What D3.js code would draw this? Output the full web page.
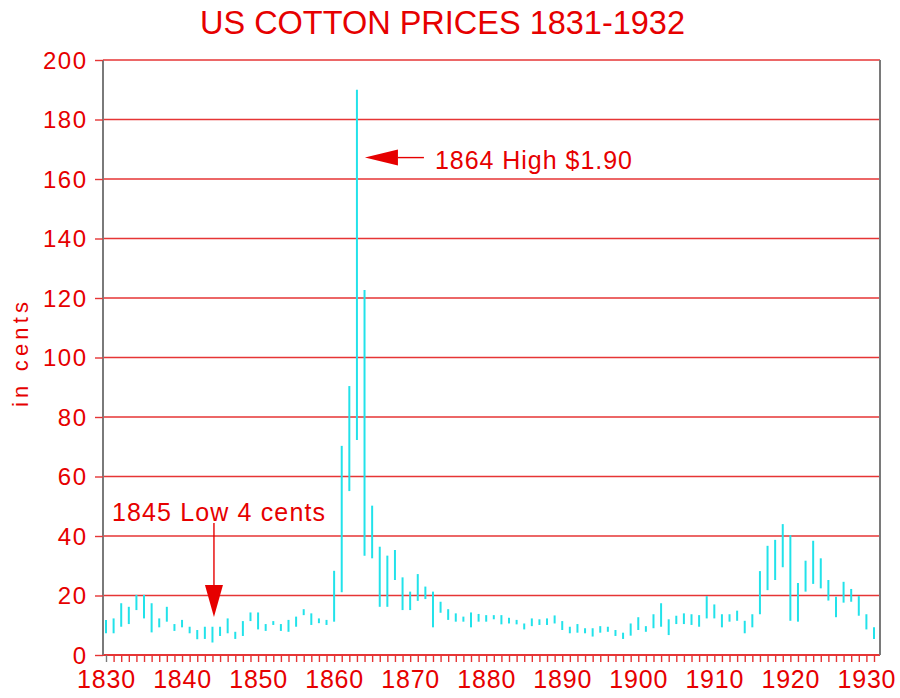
<!DOCTYPE html>
<html><head><meta charset="utf-8">
<script src="https://cdn.jsdelivr.net/npm/d3@7"></script>
<style>
html,body{margin:0;padding:0;background:#fff;}
svg{display:block;}
text{font-family:"Liberation Sans", Arial, sans-serif;}
</style></head><body>
<svg id="chart" width="900" height="698"></svg>
<script>
// ---------- data ----------
const years = d3.range(1831, 1933);
const lows = [
  7.3, 7.3, 9.5, 10.4, 15.1, 12.3, 7.6, 9.3, 11.2, 8.1,      // 1831-1840
  9.3, 7.3, 5.3, 5.4, 4.2, 6.4, 7.3, 5.4, 6.4, 11.4,         // 1841-1850
  8.6, 8.1, 10.1, 8.1, 7.8, 9.5, 13.4, 10.1, 10.7, 10.1,     // 1851-1860
  11.2, 21.1, 55.1, 72.3, 33.4, 32.5, 16.2, 16.2, 25.2, 15.1,// 1861-1870
  15.1, 18.2, 18.8, 9.3, 14.2, 11.8, 11.2, 11.2, 9.3, 11.2,  // 1871-1880
  11.2, 12.0, 10.3, 10.6, 10.3, 8.6, 9.7, 10.1, 10.1, 10.6,  // 1881-1890
  8.4, 7.3, 7.5, 7.3, 6.2, 7.5, 7.8, 6.4, 5.4, 6.5,          // 1891-1900
  8.4, 7.8, 9.0, 9.5, 6.7, 10.4, 10.4, 10.1, 9.5, 12.3,      // 1901-1910
  12.3, 9.3, 11.2, 11.5, 7.3, 9.3, 13.7, 21.8, 25.2, 29.5,   // 1911-1920
  11.5, 11.2, 21.3, 23.9, 22.4, 18.3, 12.7, 17.6, 17.9, 13.2,// 1921-1930
  8.6, 5.4                                                   // 1931-1932
];
const highs = [
  11.8, 12.3, 17.4, 16.2, 20.2, 20.2, 17.4, 12.3, 16.2, 10.4,
  11.8, 9.5, 8.4, 9.5, 9.5, 9.5, 12.3, 7.8, 11.4, 14.3,
  14.3, 10.4, 11.4, 10.4, 11.8, 12.9, 15.4, 14.0, 12.3, 11.8,
  28.3, 70.3, 90.4, 190.0, 122.7, 50.2, 36.4, 33.4, 35.3, 26.1,
  21.3, 27.2, 23.0, 21.3, 17.9, 15.4, 14.0, 12.9, 14.3, 13.8,
  13.4, 13.4, 13.4, 12.5, 11.8, 10.6, 12.3, 12.0, 12.3, 13.3,
  11.4, 9.5, 10.4, 9.0, 9.0, 9.7, 9.5, 8.4, 7.5, 10.6,
  12.7, 9.7, 13.7, 17.4, 12.0, 13.2, 14.0, 13.7, 13.4, 19.8,
  17.0, 13.7, 13.7, 14.9, 11.5, 13.7, 28.2, 36.7, 38.7, 44.0,
  40.3, 24.2, 31.7, 38.4, 32.5, 25.2, 19.6, 24.6, 22.2, 19.8,
  13.7, 9.3
];
const xTickLabels = ["1830","1840","1850","1860","1870","1880","1890","1900","1910","1920","1930"];
const yTicks = [0, 20, 40, 60, 80, 100, 120, 140, 160, 180, 200];
const titleText = "US COTTON PRICES 1831-1932";
const yTitleText = "in cents";
const highNote = {text: "1864 High $1.90", year: 1864, value: 167.2};
const lowNote  = {text: "1845 Low 4 cents", year: 1845, value: 12.8};

// ---------- style ----------
const RED = "#e60000", GRID = "#e63535", GREY = "#7a7a7a", CYAN = "#22e2ea";

const svg = d3.select("#chart");
const frame = {left: 103, right: 880, top: 60, bottom: 655};

const x = d3.scalePoint().domain(years).range([106, 874]);
const y = d3.scaleLinear().domain([0, 200]).range([frame.bottom, frame.top]);

// gridlines
svg.append("g").selectAll("line").data(yTicks).join("line")
  .attr("x1", frame.left).attr("x2", frame.right)
  .attr("y1", d => y(d)).attr("y2", d => y(d))
  .attr("stroke", GRID).attr("stroke-width", d => d === 0 ? 2 : 1.4);

// frame sides
svg.append("line").attr("x1", frame.left).attr("x2", frame.left)
  .attr("y1", frame.top).attr("y2", frame.bottom)
  .attr("stroke", GREY).attr("stroke-width", 2);
svg.append("line").attr("x1", frame.right).attr("x2", frame.right)
  .attr("y1", frame.top).attr("y2", frame.bottom)
  .attr("stroke", GREY).attr("stroke-width", 2);

// y axis
const yAxis = svg.append("g").attr("transform", `translate(${frame.left},0)`)
  .call(d3.axisLeft(y).tickValues(yTicks).tickSize(8).tickPadding(7.5));
yAxis.select(".domain").remove();
yAxis.selectAll(".tick line").attr("stroke", GRID).attr("stroke-width", 1.4);
yAxis.selectAll(".tick text").attr("fill", RED).attr("font-size", 24)
  .attr("letter-spacing", "1.5px").attr("dy", "0.34em")
  .style("font-family", '"Liberation Sans", Arial, sans-serif');

// x axis
const xAxis = svg.append("g").attr("transform", `translate(0,${frame.bottom})`)
  .call(d3.axisBottom(x).tickValues(years).tickSize(7).tickPadding(8)
    .tickFormat((d, i) => i % 10 === 0 ? xTickLabels[i / 10] : ""));
xAxis.select(".domain").remove();
xAxis.selectAll(".tick line").attr("stroke", (d, i) => i === 0 ? GREY : GRID).attr("stroke-width", 1.4);
xAxis.selectAll(".tick text").attr("fill", RED).attr("font-size", 25)
  .attr("letter-spacing", "0.8px")
  .style("font-family", '"Liberation Sans", Arial, sans-serif');

// bars (high-low lines)
svg.append("g").selectAll("line").data(years).join("line")
  .attr("x1", d => x(d)).attr("x2", d => x(d))
  .attr("y1", (d, i) => y(lows[i])).attr("y2", (d, i) => y(highs[i]))
  .attr("stroke", CYAN).attr("stroke-width", 2);

// title
svg.append("text").attr("x", 200).attr("y", 34)
  .attr("textLength", 485).attr("lengthAdjust", "spacingAndGlyphs")
  .attr("fill", RED).attr("font-size", 33).text(titleText);

// y title
svg.append("text").attr("transform", "translate(28,407) rotate(-90)")
  .attr("textLength", 105).attr("lengthAdjust", "spacing")
  .attr("fill", RED).attr("font-size", 22).text(yTitleText);

// high annotation: left-pointing arrow
{
  const tx = x(highNote.year) + 8, ty = y(highNote.value);
  svg.append("path")
    .attr("d", `M${tx},${ty} L${tx + 33},${ty - 8} L${tx + 33},${ty + 8} Z`)
    .attr("fill", RED);
  svg.append("line").attr("x1", tx + 33).attr("x2", tx + 59)
    .attr("y1", ty).attr("y2", ty).attr("stroke", RED).attr("stroke-width", 1.4);
  svg.append("text").attr("x", tx + 70).attr("y", ty + 11.5)
    .attr("textLength", 197).attr("lengthAdjust", "spacing")
    .attr("fill", RED).attr("font-size", 25).text(highNote.text);
}
// low annotation: down-pointing arrow
{
  const tx = x(lowNote.year) + 1.5, ty = y(lowNote.value);
  svg.append("path")
    .attr("d", `M${tx},${ty} L${tx - 9},${ty - 32} L${tx + 9},${ty - 32} Z`)
    .attr("fill", RED);
  svg.append("line").attr("x1", tx).attr("x2", tx)
    .attr("y1", ty - 32).attr("y2", ty - 94).attr("stroke", RED).attr("stroke-width", 1.4);
  svg.append("text").attr("x", 112).attr("y", ty - 96)
    .attr("textLength", 213).attr("lengthAdjust", "spacing")
    .attr("fill", RED).attr("font-size", 25).text(lowNote.text);
}
</script>
</body></html>
